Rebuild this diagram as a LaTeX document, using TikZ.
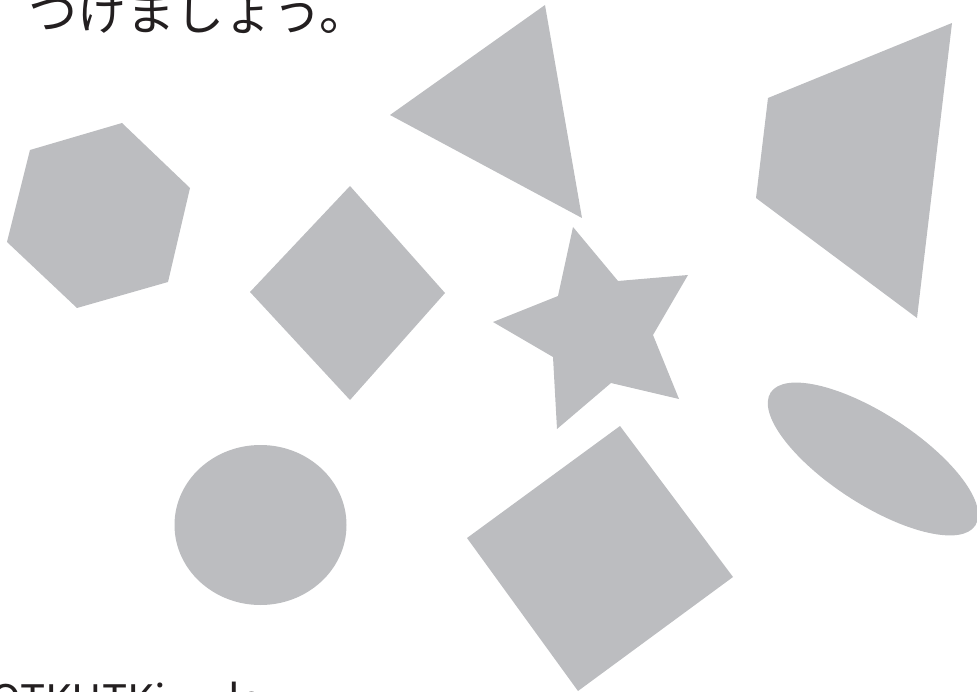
\documentclass[tikz,border=0pt]{standalone}
\usepackage{fontspec}
\newfontfamily\jpfont{Noto Sans CJK JP}
\definecolor{shapegray}{RGB}{188,189,192}
\definecolor{inkblack}{RGB}{35,31,32}
\tikzset{
	piece/.style={fill=shapegray},
	caption/.style={text=inkblack, inner sep=0pt, font=\jpfont\fontsize{49}{49}\selectfont}
}

\begin{document}
\begin{tikzpicture}[x=1pt,y=-1pt]
	\clip (0,0) rectangle (977,692);
	\node [caption, anchor=base west] (title) at (28,31) {つけましょう。};
	\node [caption, anchor=base west, font=\jpfont\fontsize{42}{42}\selectfont] (footer) at (-10,715) {OTKUTKi\hspace{62pt}le};
	% hexagon
	\fill [piece] (30,150) -- (122,123) -- (190,188) -- (168,282) -- (77,308) -- (7,242) -- cycle;
	% diamond
	\fill [piece] (350,186) -- (445,293) -- (350,400) -- (250,292) -- cycle;
	% triangle
	\fill [piece] (545,5) -- (582,218) -- (390,115) -- cycle;
	% quadrilateral
	\fill [piece] (952,23) -- (917,318) -- (756,198) -- (768,98) -- cycle;
	% star
	\fill [piece] (573,227) -- (618,281) -- (688,275) -- (653,335) -- (679,399)
		-- (611,383) -- (557,429) -- (553,357) -- (493,322) -- (558,296) -- cycle;
	% circle
	\fill [piece] (260.5,525) ellipse [x radius=86pt, y radius=80pt];
	% tilted square
	\fill [piece] (620,426) -- (733,577) -- (578,691) -- (467,538) -- cycle;
	% ellipse
	\fill [piece, rotate around={-33:(873,459)}] (873,459) ellipse [x radius=122pt, y radius=45pt];
\end{tikzpicture}
\end{document}
